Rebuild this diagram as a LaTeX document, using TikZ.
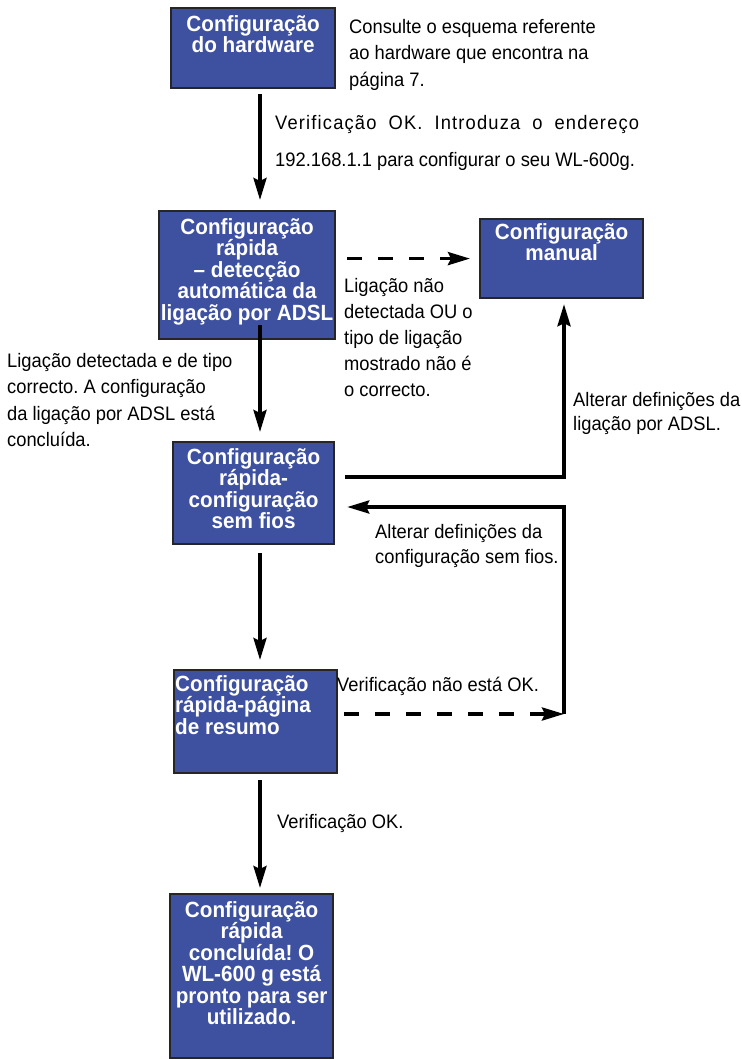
\documentclass[tikz,border=0pt]{standalone}
\usepackage{fontspec}
\setmainfont{Liberation Sans}[FakeStretch=0.94]
\usetikzlibrary{arrows.meta,positioning}
\frenchspacing

\definecolor{boxblue}{RGB}{62,80,160}

\tikzset{
  blok/.style={draw=black!85, line width=2.2pt, fill=boxblue, inner sep=0pt, anchor=north west},
  bloktxt/.style={text=white, font=\bfseries\fontsize{22}{21.5}\selectfont, align=center, inner sep=0pt},
  note/.style={font=\fontsize{19.5}{26.5}\selectfont, align=left, anchor=north west, inner sep=0pt},
  flow/.style={line width=3.6pt, -{Stealth[length=22pt,width=13pt,inset=3pt]}},
  noflow/.style={flow, dash pattern=on 15pt off 16pt},
}

\begin{document}
\begin{tikzpicture}[x=1pt,y=-1pt]
  \useasboundingbox (0,0) rectangle (741,1059);

  % the six boxes
  \node[blok, minimum width=164pt, minimum height=80pt]  (hw)     at (170,7)   {};
  \node[blok, minimum width=176pt, minimum height=128pt] (auto)   at (158,210) {};
  \node[blok, minimum width=163pt, minimum height=79pt]  (manual) at (479,218) {};
  \node[blok, minimum width=161pt, minimum height=102pt] (wifi)   at (172,441) {};
  \node[blok, minimum width=163pt, minimum height=103pt] (resumo) at (173,669) {};
  \node[blok, minimum width=163pt, minimum height=164pt] (fim)    at (169,893) {};

  % box texts
  \node[bloktxt, below=8pt of hw.north] (hw-t) {Configuração\\do hardware};
  \node[bloktxt, below=8pt of auto.north] (auto-t)
    {Configuração\\rápida\\– detecção\\automática da\\ligação por ADSL};
  \node[bloktxt, below=5pt of manual.north] (manual-t) {Configuração\\manual};
  \node[bloktxt, below=7pt of wifi.north] (wifi-t)
    {Configuração\\rápida-\\configuração\\sem fios};
  \node[bloktxt, align=left, anchor=north west, below right=6pt and 2pt of resumo.north west] (resumo-t)
    {Configuração\\rápida-página\\de resumo};
  \node[bloktxt, below=8pt of fim.north] (fim-t)
    {Configuração\\rápida\\concluída! O\\WL-600 g está\\pronto para ser\\utilizado.};

  % notes beside the arrows
  \node[note] (consult) at (349,19)
    {Consulte o esquema referente\\ao hardware que encontra na\\página 7.};
  \node[note] (verif) at (275,115)
    {\makebox[364pt][s]{\addfontfeatures{LetterSpace=6}Verificação OK. Introduza o endereço}\\[10.5pt]
     192.168.1.1 para configurar o seu WL-600g.};
  \node[note] (ligok) at (7,353)
    {Ligação detectada e de tipo\\correcto. A configuração\\da ligação por ADSL está\\concluída.};
  \node[note, font=\fontsize{19.5}{26}\selectfont] (lignao) at (344,278)
    {Ligação não\\detectada OU o\\tipo de ligação\\mostrado não é\\o correcto.};
  \node[note, font=\fontsize{19.5}{24}\selectfont] (altadsl) at (573,392)
    {Alterar definições da\\ligação por ADSL.};
  \node[note, font=\fontsize{19.5}{25}\selectfont] (altwifi) at (375,524)
    {Alterar definições da\\configuração sem fios.};
  \node[note] (naook) at (337,677) {Verificação não está OK.};
  \node[note] (okfim) at (277,814) {Verificação OK.};

  % connectors
  \coordinate (col)  at (260,0);
  \coordinate (rcol) at (564,0);
  \coordinate (turn) at (564,714);

  \draw[flow, shorten <=5pt, shorten >=10pt] (hw.south -| col) -- (auto.north -| col);
  \draw[flow, shorten <=-15pt, shorten >=9pt] (auto.south -| col) -- (wifi.north -| col);
  \draw[flow, shorten <=8pt, shorten >=9pt] (wifi.south -| col) -- (resumo.north -| col);
  \draw[flow, shorten <=6pt, shorten >=5pt] (resumo.south -| col) -- (fim.north -| col);

  \draw[noflow, shorten <=11pt, shorten >=9pt] (auto.east |- manual.west) -- (manual.west);
  \draw[flow, shorten <=10pt, shorten >=5pt] (wifi.east |- 0,477) -| (manual.south -| rcol);
  \draw[noflow, shorten <=6pt] (resumo.east |- turn) -- (turn);
  \draw[flow, shorten >=12pt] (turn) |- (wifi.east |- 0,507);
\end{tikzpicture}
\end{document}
